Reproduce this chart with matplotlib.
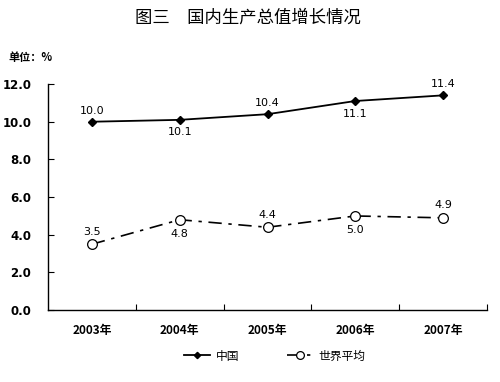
import matplotlib
matplotlib.use("Agg")
import matplotlib.pyplot as plt

plt.rcParams['font.family'] = ['Noto Sans CJK SC', 'DejaVu Sans']

years = ["2003年", "2004年", "2005年", "2006年", "2007年"]
china = [10.0, 10.1, 10.4, 11.1, 11.4]
world = [3.5, 4.8, 4.4, 5.0, 4.9]
china_label_pos = ["above", "below", "above", "below", "above"]
world_label_pos = ["above", "below", "above", "below", "above"]
yticks = [0.0, 2.0, 4.0, 6.0, 8.0, 10.0, 12.0]

fig = plt.figure(figsize=(5.0, 3.82), dpi=100)
ax = fig.add_axes([0.096, 0.188, 0.878, 0.592])

x = list(range(len(years)))
ax.plot(x, china, color='black', lw=1.3, marker='D', ms=4, mfc='black', mec='black', label='中国')
ax.plot(x, world, color='black', lw=1.2, dashes=[8, 4, 2, 4], marker='o', ms=7,
        mfc='white', mec='black', mew=0.9, label='世界平均')

for xi, v, p in zip(x, china, china_label_pos):
    off = 8 if p == "above" else -9
    ax.annotate(f"{v:.1f}", (xi, v), xytext=(0, off), textcoords='offset points',
                ha='center', va='center', fontsize=8, family='DejaVu Sans')
for xi, v, p in zip(x, world, world_label_pos):
    off = 9 if p == "above" else -10
    ax.annotate(f"{v:.1f}", (xi, v), xytext=(0, off), textcoords='offset points',
                ha='center', va='center', fontsize=8, family='DejaVu Sans')

ax.set_xlim(-0.5, 4.5)
ax.set_ylim(0, 12)
ax.set_yticks(yticks)
ax.set_yticklabels([f"{t:.1f}" for t in yticks], fontsize=8.5, fontweight='bold', family='DejaVu Sans')
ax.set_xticks([i + 0.5 for i in range(len(years))])
ax.set_xticklabels([])
ax.set_xticks(x, minor=True)
ax.set_xticklabels(years, minor=True, fontsize=8.5, fontweight='bold')
ax.tick_params(axis='x', which='minor', length=0, pad=10)
ax.tick_params(axis='x', which='major', direction='in', length=4)
ax.tick_params(axis='y', direction='in', length=4, pad=12)
for s in ['top', 'right']:
    ax.spines[s].set_visible(False)
for s in ['left', 'bottom']:
    ax.spines[s].set_linewidth(1.0)

fig.text(0.496, 0.955, "图三　国内生产总值增长情况", ha='center', va='center', fontsize=12.5, fontweight='medium')
fig.text(0.016, 0.85, "单位：%", ha='left', va='center', fontsize=8, fontweight='bold')

fig.legend(loc='center', bbox_to_anchor=(0.55, 0.068), ncol=2, frameon=False,
           fontsize=8.5, handlelength=2.2, columnspacing=4, handletextpad=0.5, markerscale=0.8)

fig.savefig("out.png", dpi=100)
